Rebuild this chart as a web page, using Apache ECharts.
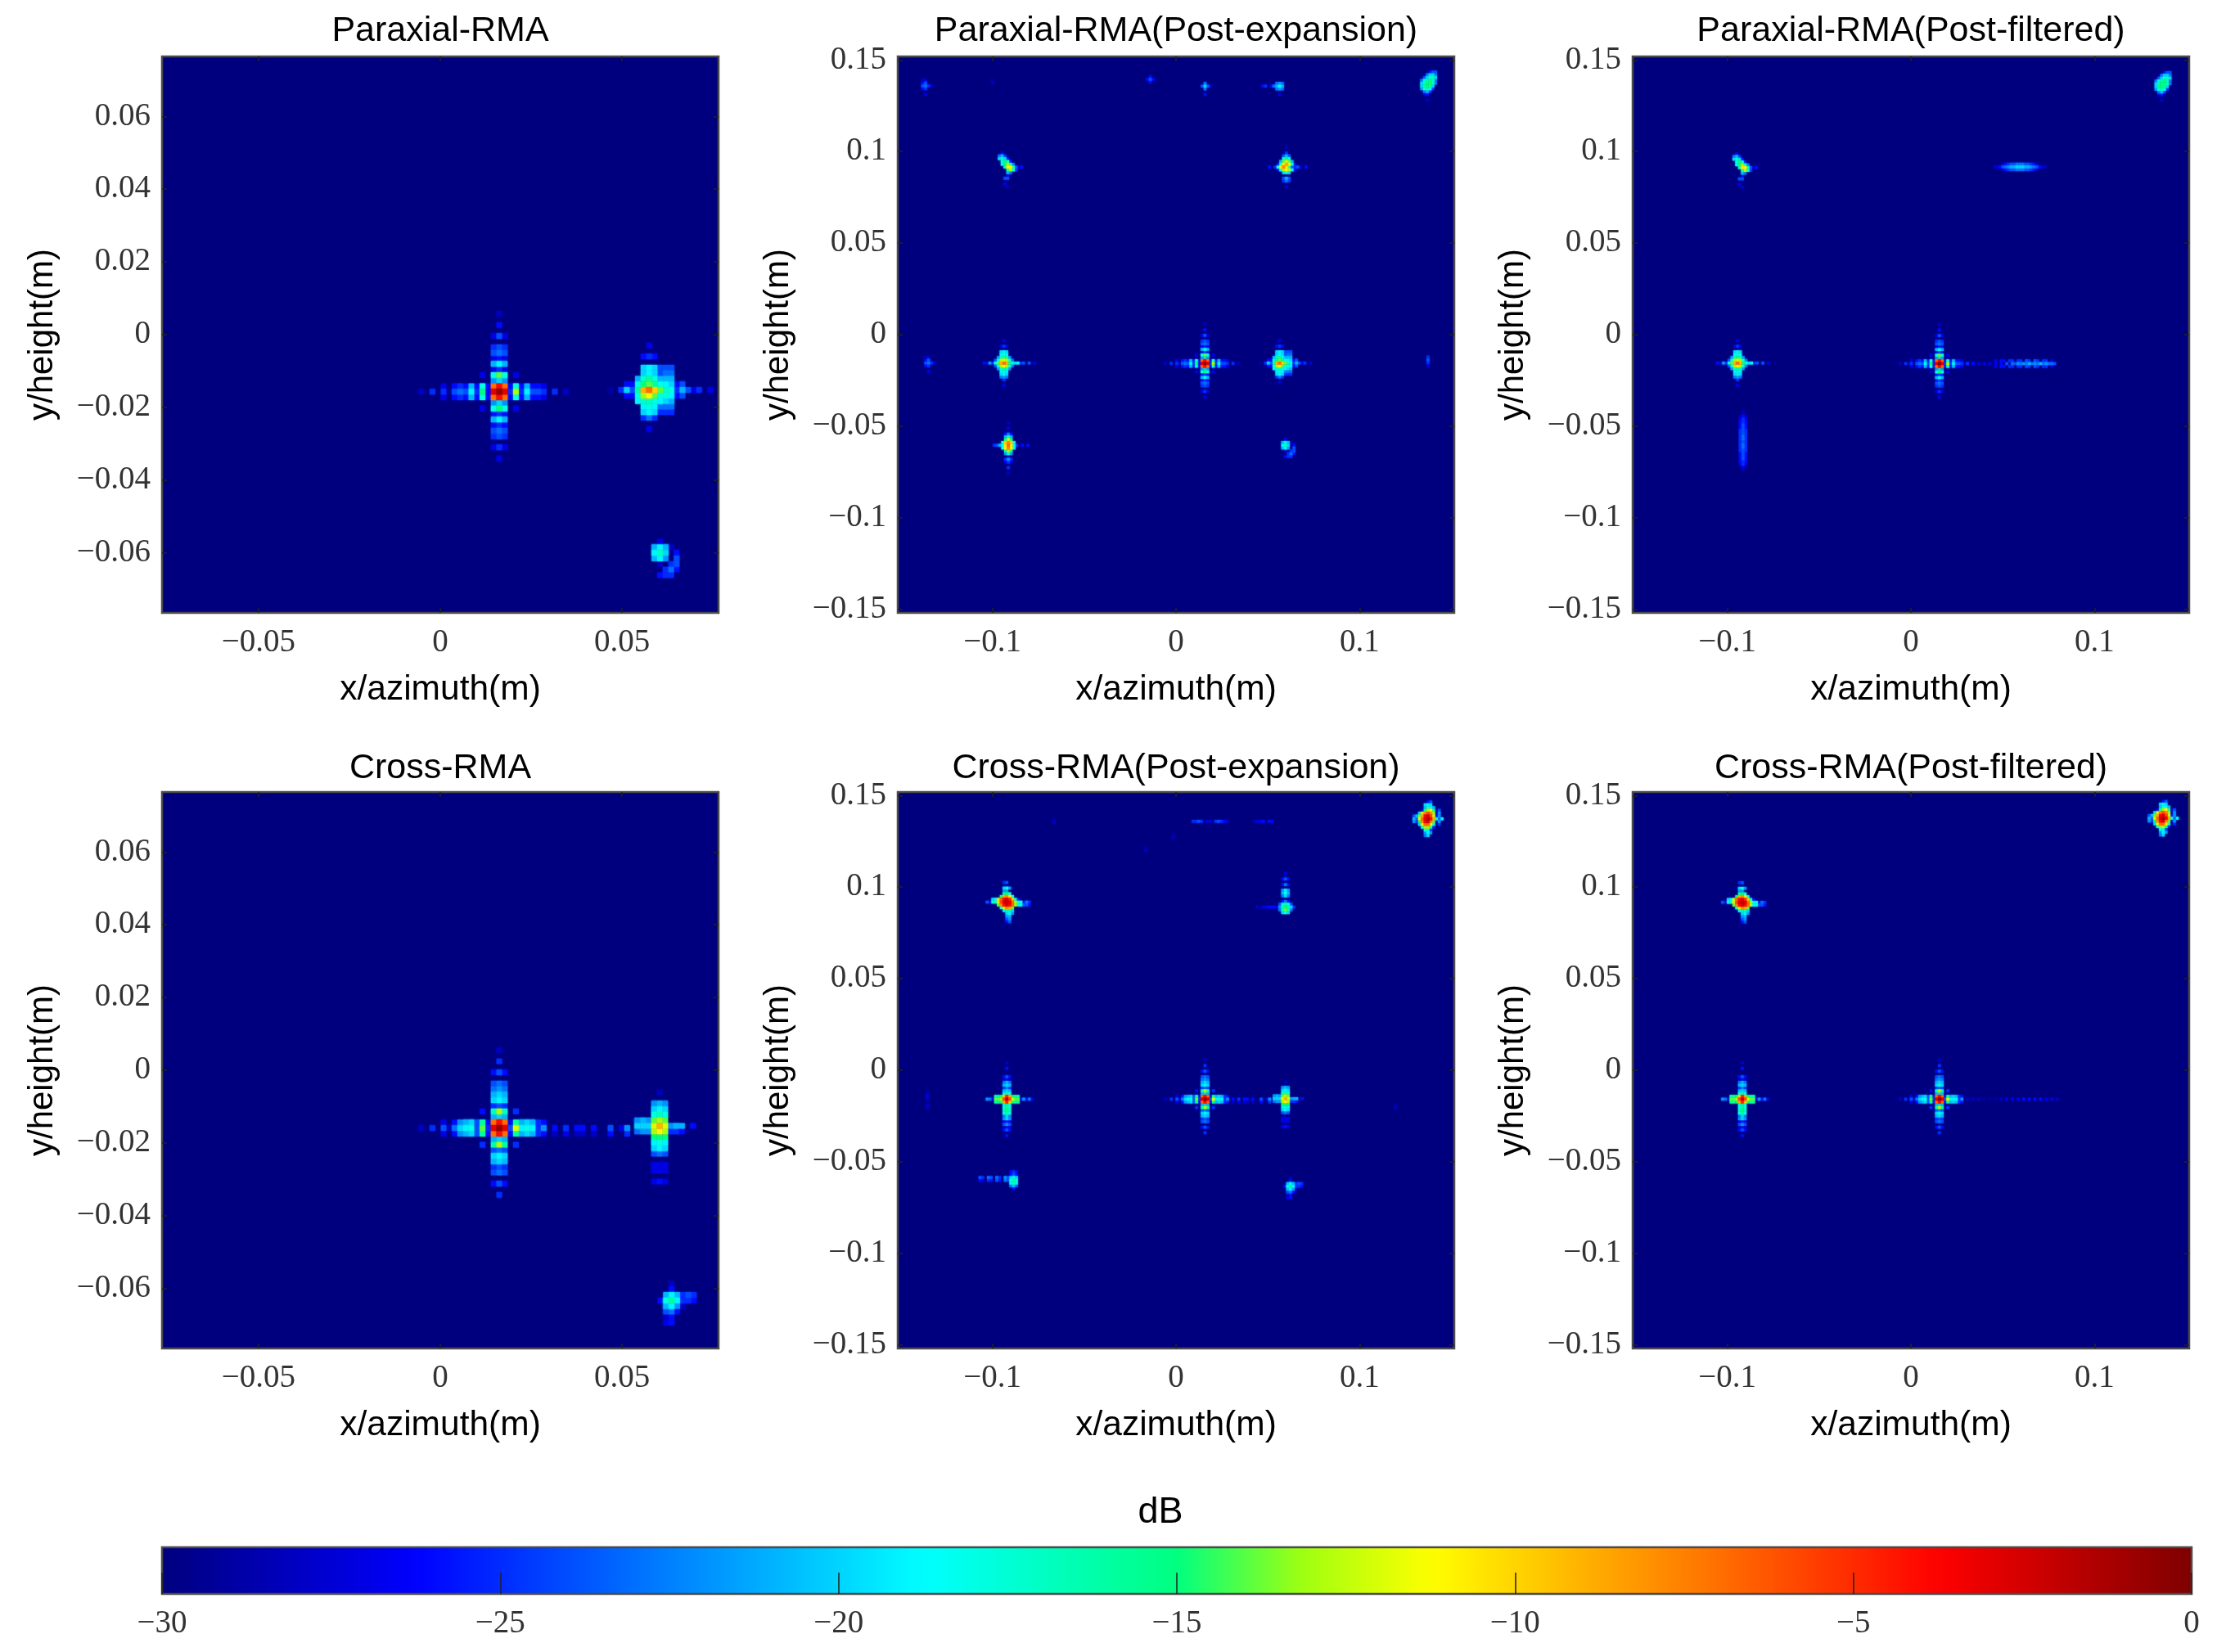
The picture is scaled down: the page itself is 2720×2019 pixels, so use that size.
<!DOCTYPE html>
<html>
<head>
<meta charset="utf-8">
<style>html,body{margin:0;background:#fff}#main{width:2720px;height:2019px}</style>
<script src="https://cdn.jsdelivr.net/npm/echarts@6/dist/echarts.min.js"></script>
</head>
<body>
<div id="main"></div>
<script>
// tick labels
var narrowX = [-0.05, 0, 0.05];
var narrowY = [-0.06, -0.04, -0.02, 0, 0.02, 0.04, 0.06];
var wideX = [-0.1, 0, 0.1];
var wideY = [-0.15, -0.1, -0.05, 0, 0.05, 0.1, 0.15];
var barTicks = [-30, -25, -20, -15, -10, -5, 0];
var titles = ['Paraxial-RMA', 'Paraxial-RMA(Post-expansion)', 'Paraxial-RMA(Post-filtered)',
  'Cross-RMA', 'Cross-RMA(Post-expansion)', 'Cross-RMA(Post-filtered)'];
var jet = ['#00007f', '#0000bf', '#0000ff', '#0040ff', '#0080ff', '#00bfff', '#00ffff', '#00ffbf', '#00ff80',
  '#a0ff10', '#ffff00', '#ffbf00', '#ff8000', '#ff4000', '#ff0000', '#bf0000', '#7f0000'];

// one image cell in metres
var cell = 0.00153;

// spots: [rows up from peak, first column from peak, dB, dB, ...]
var crossA = [[14,0,-28],[12,0,-26],[10,-1,-27,-24,-27],[8,-1,-25,-24,-25],[7,-1,-24,-23,-24],[6,-1,-27,-26,-27],
  [5,-1,-21,-19,-21],[4,-1,-27,-25,-27],[3,-3,-27,-30,-18,-14,-18,-30,-27],[2,-1,-22,-20,-22],
  [1,-10,-27,-30,-26,-25,-26,-21,-26,-18,-26,-7,-4,-7,-26,-18,-26,-21,-26,-26,-27],
  [0,-14,-28,-30,-25,-30,-25,-29,-24,-23,-24,-19,-25,-15,-26,-3,-0.5,-3,-25,-13,-25,-19,-24,-24,-25,-30,-25,-30,-28],
  [-1,-10,-27,-30,-26,-25,-26,-21,-26,-18,-26,-7,-4,-7,-26,-18,-26,-21,-26,-26,-27],
  [-2,-1,-22,-20,-22],[-3,-3,-27,-30,-18,-15,-18,-30,-27],[-4,-1,-26,-25,-26],[-5,-1,-21,-19,-21],[-6,-1,-26,-25,-26],
  [-7,-1,-24,-23,-24],[-8,-1,-25,-24,-25],[-10,-1,-27,-25,-27],[-12,0,-27]];
var sideA = [[8,0,-27],[6,-1,-26,-25,-26],[4,-1,-20,-19,-20,-24,-24,-24],[3,-1,-20,-19,-20,-24,-23,-23],
  [2,-2,-21,-17,-16,-18,-21,-21,-21],[1,-4,-26,-26,-18,-15,-14,-16,-18,-19,-20,-26,-24],
  [0,-7,-29,-30,-25,-20,-24,-16,-9,-7,-10,-14,-17,-18,-25,-21,-24,-27,-25,-30,-27],
  [-1,-4,-26,-26,-18,-13,-11,-14,-18,-18,-19,-26,-24],[-2,-2,-19,-17,-17,-18,-19,-20,-21],
  [-3,-1,-19,-18,-19,-23,-23,-23],[-4,-1,-20,-19,-20,-25,-25,-25],[-5,-1,-25,-23,-25],[-7,0,-27]];
var lowA = [[2,0,-27],[1,-1,-21,-19,-21,-28],[0,-1,-19,-17,-20,-30,-26],[-1,-1,-21,-19,-22,-30,-24],
  [-2,0,-28,-30,-25,-24],[-3,1,-25,-23,-26],[-4,0,-26,-25,-25]];
var crossB = [[14,0,-28],[12,0,-25],[10,-1,-26,-24,-26],[8,-1,-24,-23,-24],[7,-1,-23,-22,-23],[6,-1,-21,-20,-21],
  [5,-1,-20,-19,-20],[4,-1,-25,-24,-25],[3,-3,-26,-30,-17,-13,-17,-30,-25],[2,-1,-21,-20,-21],
  [1,-10,-27,-30,-26,-22,-21,-20,-24,-16,-26,-7,-4,-7,-26,-16,-21,-20,-21,-25,-26],
  [0,-14,-28,-30,-25,-30,-24,-28,-23,-20,-19,-18,-24,-14,-25,-3,-0.5,-3,-24,-12,-19,-18,-19,-25,-22],
  [-1,-10,-27,-30,-26,-22,-21,-20,-24,-16,-26,-7,-4,-7,-26,-16,-21,-20,-21,-25,-26],
  [-2,-1,-21,-20,-21],[-3,-3,-25,-30,-16,-13,-16,-30,-25],[-4,-1,-24,-23,-24],[-5,-1,-20,-19,-20],[-6,-1,-21,-20,-21],
  [-7,-1,-25,-24,-25],[-8,-1,-24,-23,-24],[-10,-1,-26,-24,-26],[-12,0,-25]];
var bridgeB = [[0,9,-30,-26,-30,-25,-30,-26,-26,-30,-26,-30,-30,-24,-30,-27,-22],
  [-1,10,-28,-30,-27,-30,-28,-28,-30,-28,-30,-30,-26,-30,-30,-25]];
var sideB = [[6,0,-28],[4,-1,-22,-21,-22],[3,-1,-20,-19,-20],[2,-1,-18,-17,-18],[1,-4,-22,-21,-22,-14,-13,-14],
  [0,-4,-20,-20,-20,-12,-9,-12,-22,-21,-21,-30,-26],[-1,-4,-23,-22,-22,-13,-11,-13,-25,-25,-26],
  [-2,-1,-15,-15,-15],[-3,-1,-19,-18,-19],[-4,-1,-20,-19,-20],[-5,-1,-24,-23,-24],[-7,-1,-27,-27,-27],
  [-8,-1,-27,-27,-27],[-10,-1,-27,-26,-27]];
var lowB = [[3,0,-28],[2,0,-26],[1,-1,-21,-19,-21,-25,-24,-25],[0,-2,-26,-18,-16,-19,-25,-25,-26],
  [-1,-1,-21,-19,-22,-28],[-2,-1,-24,-23,-26],[-3,-1,-28,-26],[-4,-1,-27,-26]];
var leftSpot = [[8,0,-27],[6,-1,-27,-25,-27],[4,-1,-20,-19,-20],[3,-1,-19,-18,-19],[2,-2,-22,-17,-16,-17,-22],
  [1,-3,-24,-19,-13,-12,-13,-18,-23],
  [0,-7,-26,-28,-22,-25,-18,-14,-9,-7,-9,-15,-18,-20,-19,-25,-24,-30,-24,-30,-27],
  [-1,-3,-24,-19,-13,-11,-13,-18,-23],[-2,-2,-22,-17,-16,-17,-22],[-3,-1,-19,-18,-19],[-4,-1,-20,-19,-20],
  [-5,-1,-23,-22,-23],[-6,0,-25],[-8,0,-27]];
var tiltSpot = [[5,-2,-27],[4,-3,-23,-21,-25],[3,-3,-20,-17,-20,-26],[2,-2,-18,-15,-18,-26],[1,-2,-19,-15,-13,-17,-23],
  [0,-1,-17,-11,-11,-17,-24,-28,-26],[-1,0,-16,-13,-18,-25],[-2,0,-21,-23],[-3,0,-27],[-4,-1,-24,-24],[-6,-1,-27],[-7,0,-28]];
var topRight = [[7,0,-28],[5,0,-25],[4,-1,-24,-21,-24],[3,-1,-18,-16,-18],[2,-2,-21,-14,-12,-14,-21],
  [1,-3,-26,-18,-11,-9,-11,-17,-26],[0,-6,-26,-30,-25,-18,-11,-8,-11,-17,-24,-25,-24,-27,-30,-26],
  [-1,-3,-27,-19,-13,-11,-13,-19,-27],[-2,-1,-20,-18,-20],[-4,-1,-24,-21,-24],[-5,-1,-25,-23,-25],[-7,0,-27]];
var lowLeft = [[8,0,-28],[6,0,-27],[4,-1,-26,-23,-26],[3,-1,-21,-17,-21],[2,-1,-15,-12,-15],
  [1,-2,-18,-10,-8,-10,-19],[0,-5,-25,-24,-21,-19,-11,-7,-11,-19,-25,-30,-26,-30,-26],
  [-1,-2,-18,-11,-8,-11,-19],[-2,-1,-16,-13,-16],[-3,-1,-22,-19,-22],[-5,-1,-25,-22,-25],
  [-6,-1,-27,-25,-27],[-8,0,-25],[-10,0,-28]];
var cornerA = [[4,1,-26,-24,-24],[3,0,-23,-20,-20,-23],[2,-1,-24,-20,-18,-17,-20],[1,-2,-23,-19,-16,-15,-17,-23],
  [0,-2,-20,-17,-15,-15,-17,-23],[-1,-2,-20,-16,-15,-16,-20],[-2,-2,-22,-18,-17,-19,-25],[-3,-1,-23,-21,-25],
  [-4,-1,-27,-26],[-6,0,-28]];
var cornerB = [[6,0,-26,-24],[5,-1,-20,-19,-20],[4,-1,-21,-18,-19,-21],[3,-2,-27,-15,-13,-11,-15,-28,-24],
  [2,-3,-20,-12,-8,-6,-8,-13,-28,-22],[1,-5,-24,-21,-14,-9,-4,-3,-6,-12,-26,-22],
  [0,-5,-21,-24,-12,-7,-3,-1.5,-4,-9,-17,-24,-19],[-1,-5,-22,-25,-15,-8,-4,-3,-8,-14,-28,-22],
  [-2,-3,-20,-12,-7,-7,-11,-19,-30,-25],[-3,-2,-17,-13,-13,-15,-26],[-4,-1,-18,-19,-25],[-5,-1,-22,-19,-22],[-6,-1,-23,-20]];
var redLeft = [[7,-1,-25,-24],[5,-1,-20,-18,-22],[4,-1,-22,-22],[3,-1,-16,-15,-18],[2,-2,-15,-9,-8,-11,-18],
  [1,-5,-20,-19,-12,-7,-4,-3,-5,-10,-17,-26],
  [0,-7,-24,-26,-18,-17,-12,-6,-3,-2,-3,-7,-13,-18,-18,-26,-23,-25],
  [-1,-3,-14,-8,-4,-3,-4,-7,-13,-19,-18,-24,-24,-26],[-2,-2,-18,-12,-8,-9,-14],[-3,-1,-19,-17,-17,-20],
  [-4,0,-20,-19,-22],[-5,0,-22,-21],[-6,0,-24,-22],[-7,0,-26,-24]];
var crossC = [[13,0,-28],[11,0,-26],[8,-1,-26,-24,-26],[7,-1,-28,-27,-28],[6,-1,-23,-21,-23],[5,-1,-21,-20,-21],
  [4,-1,-25,-23,-25],[3,-1,-21,-20,-21],[2,-1,-19,-17,-19],[1,-4,-16,-16,-15,-10,-5,-9,-15,-16,-16],
  [0,-7,-22,-23,-27,-14,-14,-13,-6,-2,-6,-12,-14,-14,-26,-22,-26,-23,-27],
  [-1,-4,-16,-16,-15,-9,-5,-10,-15,-16,-16],[-2,-1,-19,-16,-19],[-3,-1,-18,-16,-18],[-4,-1,-17,-15,-17],
  [-5,-1,-18,-16,-18],[-6,-1,-23,-20,-23],[-7,-1,-22,-20,-22],[-8,-1,-27,-26,-27],[-9,-1,-24,-22,-24],
  [-10,-1,-28,-27,-28],[-11,-1,-26,-24,-26],[-13,0,-26]];
var columnP5 = [[12,0,-27],[10,-1,-26,-24,-26],[8,-1,-26,-23,-26],[6,-1,-22,-19,-22],[5,-1,-21,-18,-21],[4,-1,-23,-20,-23],
  [2,-1,-26,-23,-26],[1,-2,-24,-19,-17,-19,-24],[0,-10,-28,-30,-27,-27,-26,-26,-26,-27,-22,-17,-15,-16,-20,-25],
  [-1,-2,-23,-17,-14,-17,-23],[-2,-1,-20,-18,-20]];
var lowLeftP5 = [[3,-1,-26,-25,-26],[2,-1,-26,-24,-26],[1,-12,-24,-25,-30,-23,-24,-30,-23,-25,-30,-22,-24,-20,-19,-20],
  [0,-12,-26,-27,-30,-25,-26,-30,-24,-26,-30,-23,-24,-18,-16,-18],[-1,-1,-19,-17,-19],[-2,-1,-23,-21,-24],[-3,0,-26]];
var streakH = [[1,-6,-28,-26,-25,-24,-24,-23,-23,-23,-24,-24,-25,-26,-28],
  [0,-9,-28,-27,-26,-24,-23,-22,-21,-21,-20,-20,-20,-21,-21,-22,-23,-24,-26,-27,-28],
  [-1,-6,-28,-26,-25,-24,-24,-23,-23,-23,-24,-24,-25,-26,-28]];
var streakV = [[11,0,-29],[10,0,-28],[9,-1,-28,-26,-28],[8,-1,-27,-25,-27],[7,-1,-26,-25,-26],[6,-1,-26,-24,-26],
  [5,-1,-26,-24,-26],[4,-1,-25,-24,-25],[3,-1,-25,-24,-25],[2,-1,-25,-23,-25],[1,-1,-25,-23,-25],[0,-1,-25,-24,-25],
  [-1,-1,-25,-23,-25],[-2,-1,-25,-23,-25],[-3,-1,-25,-24,-25],[-4,-1,-26,-24,-26],[-5,-1,-26,-24,-26],
  [-6,-1,-26,-24,-26],[-7,-1,-26,-25,-26],[-8,-1,-27,-25,-27],[-9,0,-27],[-10,0,-28]];
var tailP3 = [[1,20,-27,-30,-26,-26,-30,-25,-25,-30,-25,-25,-30,-24,-25,-30,-24,-25,-30,-25,-25,-30,-27],
  [0,10,-26,-30,-26,-30,-27,-30,-27,-30,-27,-30,-27,-30,-26,-30,-24,-30,-23,-24,-22,-23,-22,-23,-21,-23,-22,-23,-21,-23,-22,-23,-23,-24],
  [-1,20,-27,-30,-26,-26,-30,-25,-25,-30,-25,-25,-30,-24,-25,-30,-24,-25,-30,-25,-25,-30,-27]];
var tailP6 = [[0,10,-28,-30,-28,-30,-28,-30,-29,-30,-29,-30,-29,-30,-28,-30,-27,-30,-27,-30,-27,-30,-26,-30,-26,-30,-26,-30,-26,-30,-27,-30,-27,-30,-28]];
var topMid = [[1,0,-23],[0,-1,-24,-20,-24,-27],[-1,0,-23],[-3,0,-26]];
var topSide = [[1,-1,-23,-22,-23],[0,-6,-26,-25,-30,-26,-23,-21,-19,-21],[-1,-1,-23,-22,-23],[-3,0,-27]];
var farLeft = [[2,-1,-28,-27],[1,-1,-26,-24],[0,-1,-24,-23,-25,-27],[-1,-1,-26,-25],[-3,0,-27]];
var farRight = [[1,0,-25],[0,0,-24],[-1,0,-25],[-2,0,-27]];
var dotTop = [[1,0,-26],[0,-1,-26,-24,-26],[-1,0,-26]];
var dotFaint = [[1,0,-29],[0,0,-28]];
var streakTop1 = [[0,-6,-25,-25,-24,-25,-30,-27,-27,-30,-25,-24,-25,-26,-27]];
var streakTop2 = [[0,-3,-28,-27,-27,-26,-30,-26,-26]];
var faintColumn = [[3,0,-29],[1,0,-28],[0,0,-27],[-1,0,-28],[-3,0,-28],[-4,0,-28]];

// each panel: spot, x of peak, y of peak
var paraxial = [[crossA, 0.0162, -0.0157], [sideA, 0.0574, -0.0152], [lowA, 0.0604, -0.06]];
var paraxialExpanded = [[cornerA, 0.1368, 0.1373], [farLeft, -0.1364, 0.1358], [dotFaint, -0.1, 0.1375], [dotTop, -0.014, 0.1394],
  [topMid, 0.0158, 0.1357], [topSide, 0.0564, 0.1357], [tiltSpot, -0.0916, 0.0915], [topRight, 0.0601, 0.0915],
  [leftSpot, -0.0937, -0.0155], [crossA, 0.0157, -0.0157], [sideA, 0.0564, -0.0155], [farLeft, -0.1347, -0.0155],
  [farRight, 0.1372, -0.0137], [lowLeft, -0.0913, -0.0604], [lowA, 0.0596, -0.0604]];
var paraxialFiltered = [[cornerA, 0.1365, 0.137], [tiltSpot, -0.0918, 0.0912], [streakH, 0.0593, 0.0916],
  [leftSpot, -0.0944, -0.0155], [crossA, 0.0155, -0.0158], [tailP3, 0.0155, -0.0158], [streakV, -0.0914, -0.0585]];
var cross = [[crossB, 0.0162, -0.0159], [bridgeB, 0.0162, -0.0159], [sideB, 0.0603, -0.0153], [lowB, 0.0636, -0.0633]];
var crossExpanded = [[cornerB, 0.1372, 0.1373], [streakTop1, 0.0185, 0.1359], [streakTop2, 0.0476, 0.1359], [dotFaint, -0.0665, 0.1355],
  [dotFaint, -0.0165, 0.12], [dotFaint, -0.0015, 0.127], [redLeft, -0.0921, 0.0918], [columnP5, 0.0596, 0.0891],
  [crossC, -0.0921, -0.0158], [crossB, 0.0158, -0.0158], [bridgeB, 0.0158, -0.0158], [sideB, 0.0596, -0.0155],
  [faintColumn, -0.1354, -0.0145], [dotFaint, 0.1195, -0.0205], [lowLeftP5, -0.0884, -0.0601], [lowB, 0.0623, -0.0634]];
var crossFiltered = [[cornerB, 0.1374, 0.1376], [redLeft, -0.0918, 0.0917], [crossC, -0.0918, -0.0158],
  [crossB, 0.0155, -0.0158], [tailP6, 0.0155, -0.0158]];
var panels = [paraxial, paraxialExpanded, paraxialFiltered, cross, crossExpanded, crossFiltered];

var lefts = [198, 1097, 1995];
var tops = [69, 968];
var size = 680;
var tickFont = 'Liberation Serif';
var sansFont = 'Liberation Sans';

function cellsOf(panel) {
  var cells = [];
  panel.forEach(function (p) {
    p[0].forEach(function (row) {
      for (var k = 2; k < row.length; k++) {
        if (row[k] > -30) cells.push([p[1] + (row[1] + k - 2) * cell, p[2] + row[0] * cell, row[k]]);
      }
    });
  });
  // dim cells first so the bright ones stay on top
  return cells.sort(function (a, b) { return a[2] - b[2]; });
}

function tickLabel(v) {
  return String(v).replace('-', '\u2212');
}

function renderCell(params, api) {
  var x = api.value(0), y = api.value(1);
  var a = api.coord([x - cell / 2, y + cell / 2]);
  var b = api.coord([x + cell / 2, y - cell / 2]);
  var c = api.visual('color');
  return {
    type: 'rect',
    shape: { x: a[0], y: a[1], width: b[0] - a[0], height: b[1] - a[1] },
    style: { fill: c, shadowColor: c, shadowBlur: 2 }
  };
}

var grids = [], xAxes = [], yAxes = [], series = [], titleList = [];

panels.forEach(function (panel, i) {
  var col = i % 3, row = Math.floor(i / 3);
  var narrow = col === 0;
  var xLim = narrow ? 0.0765 : 0.1515;
  var yLim = narrow ? 0.0765 : 0.1519;
  var xTicks = narrow ? narrowX : wideX;
  var yTicks = narrow ? narrowY : wideY;
  var tickStyle = { color: '#222', width: 1.5 };
  var noLine = { show: false, onZero: false };
  grids.push({
    left: lefts[col], top: tops[row], width: size, height: size,
    show: true, backgroundColor: '#00007f', borderColor: '#4a4a4a', borderWidth: 2.5
  });
  xAxes.push({
    type: 'value', gridIndex: i, position: 'bottom', min: -xLim, max: xLim, z: 3,
    axisLine: noLine, splitLine: { show: false },
    axisTick: { inside: true, length: 6, customValues: xTicks, lineStyle: tickStyle },
    axisLabel: { customValues: xTicks, formatter: tickLabel, margin: 17, color: '#333', fontFamily: tickFont, fontSize: 39 },
    name: 'x/azimuth(m)', nameLocation: 'middle', nameGap: 73,
    nameTextStyle: { color: '#000', fontFamily: sansFont, fontSize: 42.5 }
  }, {
    type: 'value', gridIndex: i, position: 'top', min: -xLim, max: xLim, z: 3,
    axisLine: noLine, splitLine: { show: false },
    axisTick: { inside: true, length: 6, customValues: xTicks, lineStyle: tickStyle },
    axisLabel: { show: false }
  });
  yAxes.push({
    type: 'value', gridIndex: i, position: 'left', min: -yLim, max: yLim, z: 3,
    axisLine: noLine, splitLine: { show: false },
    axisTick: { inside: true, length: 6, customValues: yTicks, lineStyle: tickStyle },
    axisLabel: { customValues: yTicks, formatter: tickLabel, margin: 14, color: '#333', fontFamily: tickFont, fontSize: 39 },
    name: 'y/height(m)', nameLocation: 'middle', nameGap: 125,
    nameTextStyle: { color: '#000', fontFamily: sansFont, fontSize: 42 }
  }, {
    type: 'value', gridIndex: i, position: 'right', min: -yLim, max: yLim, z: 3,
    axisLine: noLine, splitLine: { show: false },
    axisTick: { inside: true, length: 6, customValues: yTicks, lineStyle: tickStyle },
    axisLabel: { show: false }
  });
  series.push({
    type: 'custom', name: titles[i], coordinateSystem: 'cartesian2d',
    xAxisIndex: i * 2, yAxisIndex: i * 2, clip: true, silent: true,
    encode: { x: 0, y: 1 }, data: cellsOf(panel), renderItem: renderCell
  });
  titleList.push({
    text: titles[i], left: lefts[col] + size / 2, top: (row === 0 ? 36 : 937) - 19, padding: 0, textAlign: 'center',
    textStyle: { color: '#000', fontFamily: sansFont, fontWeight: 'normal', fontSize: 43 }
  });
});

// colour bar axis
grids.push({ left: 198, top: 1891, width: 2480, height: 57, show: true, borderColor: '#4a4a4a', borderWidth: 2.5, z: 3 });
xAxes.push({
  type: 'value', gridIndex: 6, position: 'bottom', min: -30, max: 0, z: 5,
  axisLine: { show: false, onZero: false }, splitLine: { show: false },
  axisTick: { inside: true, length: 26, customValues: barTicks, lineStyle: { color: '#222', width: 1.5 } },
  axisLabel: { customValues: barTicks, formatter: tickLabel, margin: 17, color: '#333', fontFamily: tickFont, fontSize: 39 }
});
yAxes.push({ type: 'value', gridIndex: 6, min: 0, max: 1, show: false });
titleList.push({
  text: 'dB', left: 1418, top: 1826, padding: 0, textAlign: 'center',
  textStyle: { color: '#000', fontFamily: sansFont, fontWeight: 'normal', fontSize: 45 }
});

var myChart = echarts.init(document.getElementById('main'));
myChart.setOption({
  animation: false,
  backgroundColor: '#fff',
  title: titleList,
  grid: grids,
  xAxis: xAxes,
  yAxis: yAxes,
  visualMap: {
    type: 'continuous', seriesIndex: [0, 1, 2, 3, 4, 5], dimension: 2, min: -30, max: 0,
    orient: 'horizontal', left: 198, top: 1891, itemWidth: 57, itemHeight: 2480, padding: 0,
    calculable: false, realtime: false, showLabel: false, text: null, z: 1,
    inRange: { color: jet }
  },
  series: series
});
</script>
</body>
</html>
